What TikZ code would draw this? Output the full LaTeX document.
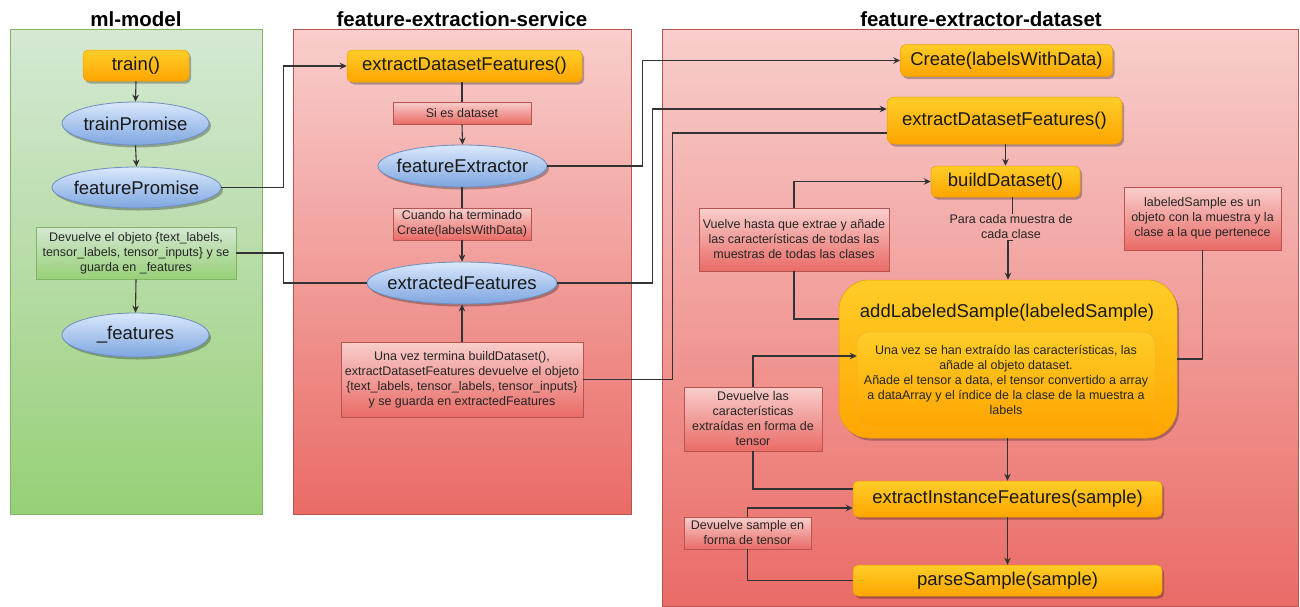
\documentclass[tikz,border=0pt]{standalone}
\usepackage{fontspec}
\setmainfont{Liberation Sans}
\usetikzlibrary{shapes.geometric,arrows.meta,shadows,calc}
\definecolor{orT}{HTML}{FFCD28}
\definecolor{orB}{HTML}{FFA500}
\definecolor{orS}{HTML}{E8A000}
\definecolor{blT}{HTML}{DAE8FC}
\definecolor{blB}{HTML}{7EA6E0}
\definecolor{blS}{HTML}{6C8EBF}
\definecolor{rdT}{HTML}{F8CECC}
\definecolor{rdB}{HTML}{EA6B66}
\definecolor{rdS}{HTML}{B85450}
\definecolor{grT}{HTML}{D5E8D4}
\definecolor{grB}{HTML}{97D077}
\definecolor{grS}{HTML}{82B366}
\newcommand{\fMain}{\fontsize{18.5}{22}\selectfont}
\newcommand{\fNote}{\fontsize{12.5}{15}\selectfont}
\newcommand{\fTtl}{\fontsize{20.5}{24}\selectfont\bfseries}
\begin{document}
\begin{tikzpicture}[x=1pt,y=-1pt,
  shd/.style={drop shadow={shadow xshift=2pt,shadow yshift=-2.5pt,opacity=0.28,fill=black}},
  panelG/.style={draw=grS,line width=0.8pt,top color=grT,bottom color=grB},
  panelR/.style={draw=rdS,line width=0.8pt,top color=rdT,bottom color=rdB},
  ttl/.style={font=\fTtl,text=black,inner sep=0pt},
  obox/.style={rectangle,rounded corners=5pt,draw=orS,line width=0.5pt,top color=orT,bottom color=orB,shd,inner sep=0pt,font=\fMain,text=black!90},
  bell/.style={ellipse,draw=blS,line width=0.8pt,top color=blT,bottom color=blB,shd,inner sep=0pt,font=\fMain,text=black!90},
  rnote/.style={rectangle,draw=rdS,line width=0.6pt,top color=rdT,bottom color=rdB,inner sep=1pt,font=\fNote,align=center,text=black!85},
  gnote/.style={rectangle,draw=grS,line width=0.6pt,top color=grT,bottom color=grB,inner sep=1pt,font=\fNote,align=center,text=black!85},
  conn/.style={draw=black!80,line width=1.1pt},
  arr/.style={conn,-{Stealth[length=7pt,width=6.5pt]}}
]
\fill[white] (0,0) rectangle (1300,606);
\useasboundingbox (0,0) rectangle (1300,606);

% panels
\draw[panelG] (10,29) rectangle (262,514);
\draw[panelR] (293,29) rectangle (631,514);
\draw[panelR] (662,29) rectangle (1298.5,606);

\node[ttl,anchor=base] (t1) at (136,26) {ml-model};
\node[ttl,anchor=base] (t2) at (462,26) {feature-extraction-service};
\node[ttl,anchor=base] (t3) at (981,26) {feature-extractor-dataset};

% ml-model
\node[obox,minimum width=106pt,minimum height=31pt] (train) at (136,65.5) {train()};
\node[bell,minimum width=147pt,minimum height=43pt] (tp) at (135.5,123.5) {\makebox[0pt]{trainPromise}};
\node[bell,minimum width=169pt,minimum height=41pt] (fp) at (136.5,187.5) {\makebox[0pt]{featurePromise}};
\node[gnote,minimum width=200pt,minimum height=52pt] (gn) at (136,253) {Devuelve el objeto \{text\_labels,\\tensor\_labels, tensor\_inputs\} y se\\guarda en \_features};
\node[bell,minimum width=147pt,minimum height=44pt] (feat) at (135.5,335) {\makebox[0pt]{\_features}};

% feature-extraction-service
\node[obox,minimum width=235pt,minimum height=32pt] (eds1) at (464.5,66) {extractDatasetFeatures()};
\node[rnote,minimum width=138pt,minimum height=22pt] (si) at (462,113) {Si es dataset};
\node[bell,minimum width=169pt,minimum height=42pt] (fe) at (462.5,166) {\makebox[0pt]{featureExtractor}};
\node[rnote,minimum width=138pt,minimum height=32pt] (cu) at (462,224) {Cuando ha terminado\\Create(labelsWithData)};
\node[bell,minimum width=190pt,minimum height=42pt] (xf) at (462,283) {\makebox[0pt]{extractedFeatures}};
\node[rnote,minimum width=242pt,minimum height=75pt] (uv) at (462,379.5) {Una vez termina buildDataset(),\\extractDatasetFeatures devuelve el objeto\\\{text\_labels, tensor\_labels, tensor\_inputs\}\\y se guarda en extractedFeatures};

% feature-extractor-dataset
\node[obox,minimum width=212pt,minimum height=32pt] (create) at (1006.5,60.5) {Create(labelsWithData)};
\node[obox,rounded corners=7pt,minimum width=235pt,minimum height=47pt] (eds2) at (1004.5,120.5) {extractDatasetFeatures()};
\node[obox,minimum width=149pt,minimum height=31pt] (build) at (1005.5,181.5) {buildDataset()};
\node[font=\fNote,align=center,text=black!85,inner xsep=0pt,inner ysep=1pt] (para) at (1011,227) {Para cada muestra de\\cada clase};
\node[rnote,minimum width=157pt,minimum height=63pt] (ls) at (1202.5,218.5) {labeledSample es un\\objeto con la muestra y la\\clase a la que pertenece};
\node[rnote,minimum width=190pt,minimum height=63pt] (vu) at (794,239.5) {Vuelve hasta que extrae y añade\\las características de todas las\\muestras de todas las clases};
\node[obox,rounded corners=30pt,minimum width=338pt,minimum height=158pt] (als) at (1008,359) {};
\node[font=\fMain,text=black!90,inner sep=0pt] (alst) at (1007,313) {addLabeledSample(labeledSample)};
\node[rectangle,rounded corners=12pt,draw=orS!80,line width=0.5pt,top color=orT,bottom color=orB,font=\fNote,align=center,text=black!85,inner sep=1pt,minimum width=298pt,minimum height=95pt] (inner) at (1006,379.5) {Una vez se han extraído las características, las\\añade al objeto dataset.\\Añade el tensor a data, el tensor convertido a array\\a dataArray y el índice de la clase de la muestra a\\labels};
\node[rnote,minimum width=138pt,minimum height=64pt] (dl) at (753,419) {Devuelve las\\características\\extraídas en forma de\\tensor};
\node[obox,minimum width=309pt,minimum height=36pt] (eif) at (1007.5,499) {extractInstanceFeatures(sample)};
\node[rnote,minimum width=127pt,minimum height=32pt] (ds) at (747.5,533) {Devuelve sample en\\forma de tensor};
\node[obox,minimum width=309pt,minimum height=31pt] (ps) at (1007.5,580.5) {parseSample(sample)};

% connectors: ml-model
\draw[arr] (train.south) -- (tp.north);
\draw[arr] (tp.south) -- (fp.north);
\draw[arr] (gn.south) -- (feat.north);
\draw[arr] (fp.east) -- ++(62,0) |- (eds1.west);
\draw[conn] (gn.east) -- ++(47,0) |- (xf.west);

% connectors: service
\draw[conn] (eds1.south -| si.north) -- (si.north);
\draw[arr] (si.south) -- (fe.north);
\draw[conn] (fe.south -| cu.north) -- (cu.north);
\draw[arr] (cu.south) -- (xf.north);
\draw[arr] (uv.north) -- (xf.south);
\draw[arr] (fe.east) -- ++(95,0) |- (create.west);
\draw[arr] (xf.east) -- ++(95,0) |- ([yshift=11.5pt]eds2.west);
\draw[conn] ([yshift=-12.5pt]eds2.west) -- ++(-214,0) |- (uv.east);

% connectors: dataset
\draw[arr] (eds2.south -| build.north) -- (build.north);
\draw[conn] ([xshift=7pt]build.south) -- ([xshift=7pt]build.south |- para.north);
\draw[arr] ([xshift=7pt]build.south |- para.south) -- (para.south -| als.north) -- (als.north);
\draw[arr] (vu.north) |- (build.west);
\draw[conn] (vu.south) |- ([yshift=40pt]als.west);
\draw[conn] (ls.south) |- (als.east);
\draw[arr] (dl.north) |- ([yshift=23.5pt]inner.west);
\draw[conn] (dl.south) |- ([yshift=10pt]eif.west);
\draw[arr] (ds.north) |- ([yshift=-9pt]eif.west);
\draw[conn] (ds.south) |- (ps.west);
\draw[arr] (als.south -| eif.north) -- (eif.north);
\draw[arr] (eif.south) -- (ps.north);
\end{tikzpicture}
\end{document}
